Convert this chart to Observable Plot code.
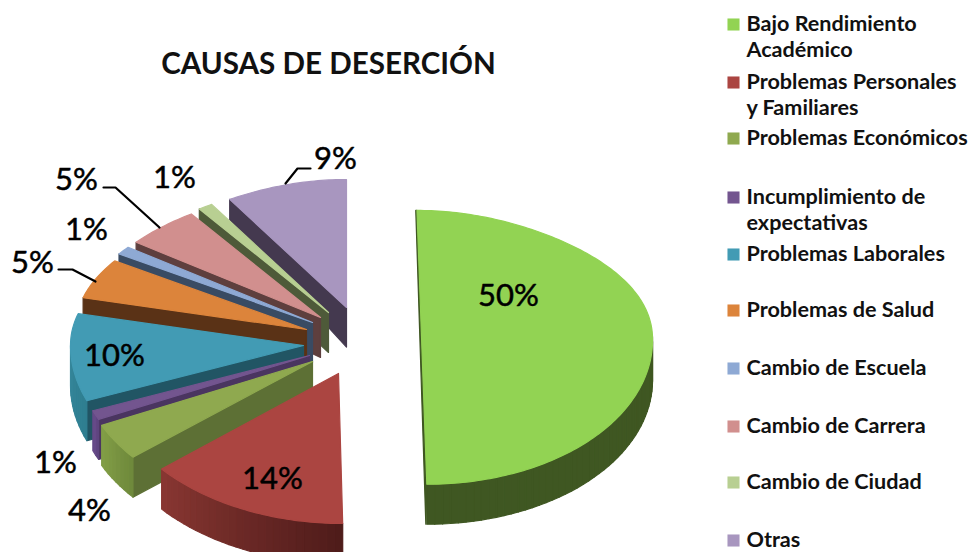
<!DOCTYPE html>
<html>
<head>
<meta charset="utf-8">
<style>html,body{margin:0;padding:0;background:#fff}</style>
<script src="https://cdn.jsdelivr.net/npm/d3@7"></script>
<script src="https://cdn.jsdelivr.net/npm/@observablehq/plot@0.6"></script>
</head>
<body>
<div id="chart"></div>
<script>
// ---- data ----
const title = "CAUSAS DE DESERCIÓN";
const categories = ["Bajo Rendimiento\nAcadémico","Problemas Personales\ny Familiares","Problemas Económicos","Incumplimiento de\nexpectativas","Problemas Laborales","Problemas de Salud","Cambio de Escuela","Cambio de Carrera","Cambio de Ciudad","Otras"];
const values = [50,14,4,1,10,5,1,5,1,9];

// ---- styles ----
const topColors = ["#92d353","#ab4541","#8fa94f","#73558f","#429bb4","#dc843b","#8ea9d4","#d18f8e","#b8cf92","#a896bf"];
const cutColors = ["#3f5722","#5a2320","#5d7035","#4a3560","#215564","#5a3216","#394b63","#5e3f3e","#4e5a39","#44394f"];
const rimStart  = ["#3f5722","#4f1c1a","#6f8a3c","#5f4580","#2f7e90","#5a3216","#394b63","#5e3f3e","#4e5a39","#44394f"];
const rimEnd    = ["#3f5722","#8a3733","#84a047","#6d4f90","#3a8da3","#5a3216","#394b63","#5e3f3e","#4e5a39","#44394f"];

// ---- layout of the exploded, tilted pie ----
const apexX = [421,338,312,309,303,306,312,320,328,346];
const apexY = [336,373,361,355,345,329,322,317,312,307];
const lean  = [0.036,0.028,0,0,0,0,0,0,0,0];
const radiusX = [231,233,233,233,233,231,233,233,233,233];
const squashY = [0.985,1,1,1,1,1,1,1,1,1];
const ryFar = 128, ryNear = 150;
const depth = y => Math.max(20, Math.min(40, 20 + (y - 198) * 0.18));
const drawOrder = [0,9,8,7,6,5,4,3,2,1];

const pctX = [508,272,89,55,114,32,86,76,174,335];
const pctY = [296,479,511,463,356,263,230,180,178,159];
const legendY = [24,82,138,197,254,310,368,426,482,540];
const leaders = [
  {id:"a",pts:[[285,183],[297,168],[310,168]]},
  {id:"b",pts:[[159,227],[115,187],[103,187]]},
  {id:"c",pts:[[95,281],[72,269],[58,269]]}
];

// ---- geometry from values ----
const arcs = d3.pie().sort(null)(values);
function rim(i, t) {
  const c = Math.cos(t), s = Math.sin(t);
  const Y = -c * (c > 0 ? ryFar : ryNear) * squashY[i];
  return [apexX[i] + (radiusX[i] - 25 * Math.max(0, c * c * c)) * s + lean[i] * Y, apexY[i] + Y];
}
const down = p => [p[0], p[1] + depth(p[1])];
const rows = [];
let n = 0;
function poly(pts, c) { const id = n++; for (const p of pts) rows.push({id, x:p[0], y:p[1], c}); }
const step = Math.PI / 180;
for (const i of drawOrder) {
  const {startAngle:a0, endAngle:a1} = arcs[i];
  const apex = [apexX[i], apexY[i]];
  if (i === 0) {
    const r0 = rim(0,a0), r1 = rim(0,a1), b = down(r1);
    poly([[r0[0]-1.2,r0[1]],[b[0]-1,b[1]],r1,r0], cutColors[0]);
  }
  if (i >= 2) {
    const r = rim(i,a0);
    poly([r, apex, down(apex), down(r)], cutColors[i]);
  }
  const lo = Math.max(a0, Math.PI/2), hi = Math.min(a1, 3*Math.PI/2);
  if (hi > lo) {
    const m = Math.max(1, Math.ceil((hi-lo)/(step*2)));
    const mix = d3.interpolateRgb(rimStart[i], rimEnd[i]);
    for (let k=0;k<m;k++) {
      const t0 = lo+(hi-lo)*k/m, t1 = lo+(hi-lo)*(k+1)/m;
      const p0 = rim(i,t0), p1 = rim(i,t1);
      poly([p0,p1,down(p1),down(p0)], d3.color(mix((t0-a0)/(a1-a0))).formatHex());
    }
  }
  const m = Math.max(2, Math.ceil((a1-a0)/step));
  poly([apex, ...d3.range(m+1).map(k => rim(i, a0+(a1-a0)*k/m))], topColors[i]);
}
const leaderRows = leaders.flatMap(l => l.pts.map(p => ({id:l.id,x:p[0],y:p[1]})));
const pctRows = values.map((v,i)=>({t:v+"%",x:pctX[i],y:pctY[i]}));
const legendRows = categories.map((t,i)=>({t,y:legendY[i],c:topColors[i]}));

const font = "Lato, sans-serif";
const plot = Plot.plot({
  width:969, height:552, margin:0,
  x:{domain:[0,969],range:[0,969],axis:null},
  y:{domain:[0,552],range:[0,552],axis:null},
  color:{type:"identity"},
  marks:[
    Plot.line(rows,{x:"x",y:"y",z:"id",fill:"c",stroke:"c",strokeWidth:1.2,curve:"linear-closed"}),
    Plot.line(leaderRows,{x:"x",y:"y",z:"id",stroke:"#000",strokeWidth:2.2,curve:"linear"}),
    Plot.text(pctRows,{x:"x",y:"y",text:"t",fontSize:31,fontFamily:font,fontWeight:400,fill:"#000",stroke:"#000",strokeWidth:0.5}),
    Plot.text([title],{x:()=>328,y:()=>64,text:d=>d,fontSize:29.6,fontFamily:font,fontWeight:700,fill:"#111"}),
    Plot.dot(legendRows,{x:()=>733,y:"y",symbol:"square",r:6.8,fill:"c",stroke:null}),
    Plot.text(legendRows,{x:()=>746,y:"y",text:"t",textAnchor:"start",lineAnchor:"top",dy:-12,lineHeight:1.21,fontSize:21.6,fontFamily:font,fontWeight:700,fill:"#111"})
  ]
});
document.getElementById("chart").appendChild(plot);
</script>
</body>
</html>
